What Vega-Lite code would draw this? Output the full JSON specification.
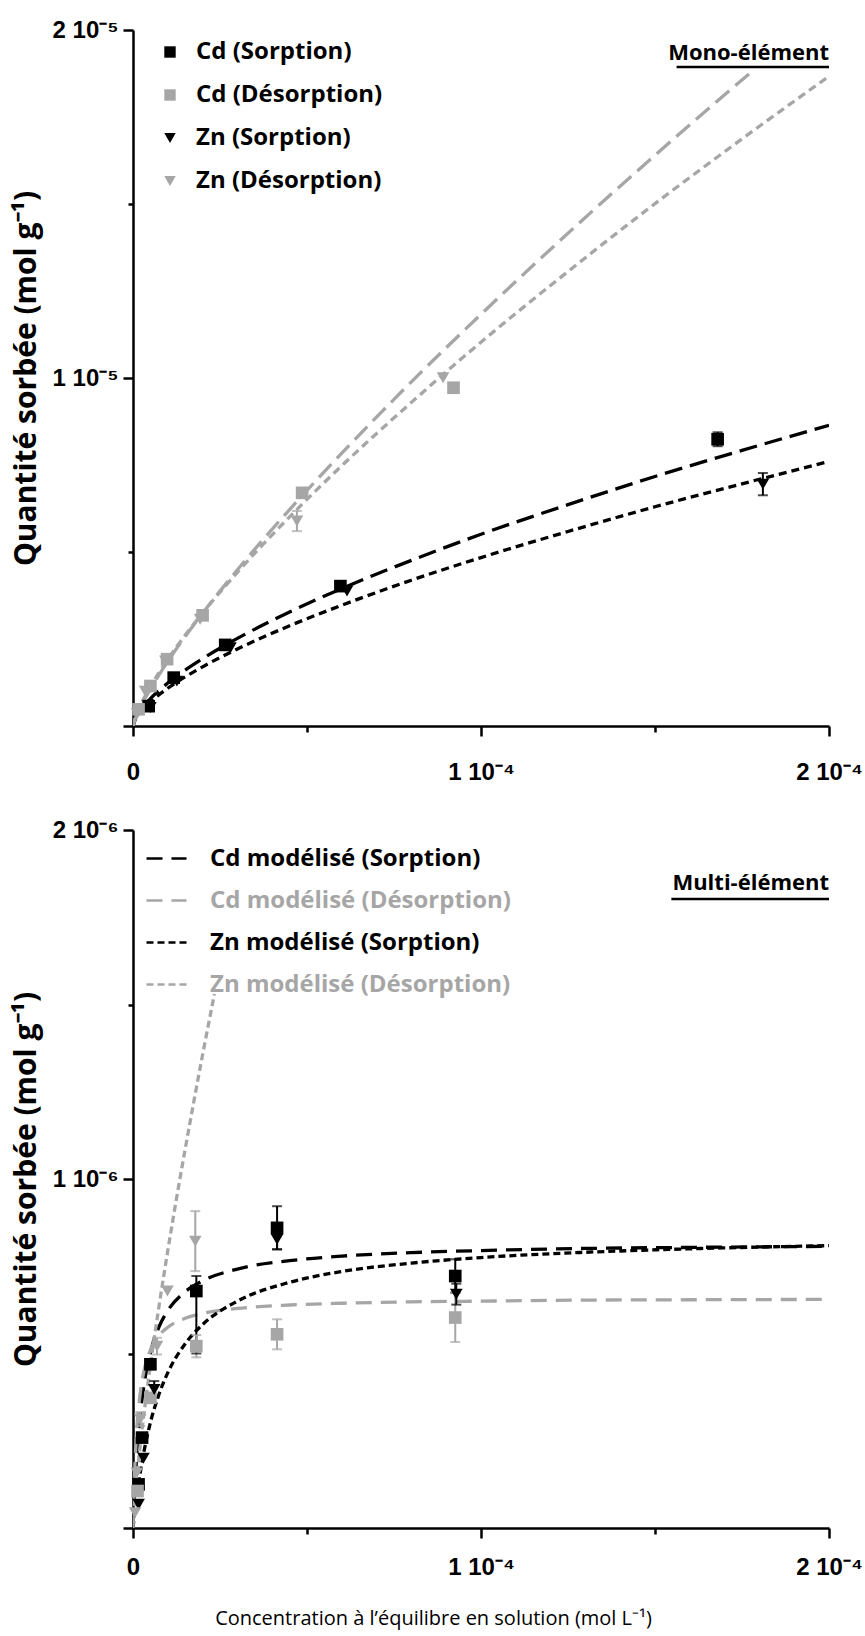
{
  "$schema": "https://vega.github.io/schema/vega-lite/v6.json",
  "background": "white",
  "padding": {"left": 11, "top": 18, "right": 5, "bottom": 5},
  "bounds": "flush",
  "spacing": 104,
  "config": {
    "view": {"stroke": null},
    "axis": {
      "grid": false,
      "domainColor": "black",
      "domainWidth": 2.5,
      "tickColor": "black",
      "tickWidth": 2.5,
      "labelFont": "Liberation Sans",
      "labelFontWeight": "bold",
      "labelFontSize": 24,
      "labelColor": "black",
      "labelFlush": false,
      "labelOverlap": false,
      "titleFont": "Open Sans",
      "titleFontWeight": "bold",
      "titleFontSize": 30,
      "titleColor": "black"
    },
    "legend": {
      "labelFont": "Open Sans",
      "labelFontWeight": "bold",
      "labelFontSize": 24,
      "labelColor": "black",
      "labelLimit": 500
    }
  },
  "resolve": {
    "scale": {"fill": "independent", "shape": "independent", "stroke": "independent", "strokeDash": "independent", "color": "independent"},
    "legend": {"fill": "independent", "shape": "independent", "stroke": "independent", "strokeDash": "independent", "color": "independent"}
  },
  "datasets": {
    "topCurves": [
      {"curve": "Cd (Sorption)", "x": 0, "y": 0},
      {"curve": "Cd (Sorption)", "x": 5e-7, "y": 1.76e-7},
      {"curve": "Cd (Sorption)", "x": 2e-6, "y": 4.33e-7},
      {"curve": "Cd (Sorption)", "x": 5e-6, "y": 7.86e-7},
      {"curve": "Cd (Sorption)", "x": 1e-5, "y": 1.233e-6},
      {"curve": "Cd (Sorption)", "x": 2e-5, "y": 1.934e-6},
      {"curve": "Cd (Sorption)", "x": 3e-5, "y": 2.517e-6},
      {"curve": "Cd (Sorption)", "x": 4.5e-5, "y": 3.277e-6},
      {"curve": "Cd (Sorption)", "x": 6e-5, "y": 3.95e-6},
      {"curve": "Cd (Sorption)", "x": 8e-5, "y": 4.76e-6},
      {"curve": "Cd (Sorption)", "x": 1e-4, "y": 5.51e-6},
      {"curve": "Cd (Sorption)", "x": 1.25e-4, "y": 6.36e-6},
      {"curve": "Cd (Sorption)", "x": 1.5e-4, "y": 7.17e-6},
      {"curve": "Cd (Sorption)", "x": 1.75e-4, "y": 7.92e-6},
      {"curve": "Cd (Sorption)", "x": 2e-4, "y": 8.64e-6},
      {"curve": "Zn (Sorption)", "x": 0, "y": 0},
      {"curve": "Zn (Sorption)", "x": 5e-7, "y": 1.55e-7},
      {"curve": "Zn (Sorption)", "x": 2e-6, "y": 3.81e-7},
      {"curve": "Zn (Sorption)", "x": 5e-6, "y": 6.91e-7},
      {"curve": "Zn (Sorption)", "x": 1e-5, "y": 1.084e-6},
      {"curve": "Zn (Sorption)", "x": 2e-5, "y": 1.7e-6},
      {"curve": "Zn (Sorption)", "x": 3e-5, "y": 2.213e-6},
      {"curve": "Zn (Sorption)", "x": 4.5e-5, "y": 2.88e-6},
      {"curve": "Zn (Sorption)", "x": 6e-5, "y": 3.47e-6},
      {"curve": "Zn (Sorption)", "x": 8e-5, "y": 4.19e-6},
      {"curve": "Zn (Sorption)", "x": 1e-4, "y": 4.84e-6},
      {"curve": "Zn (Sorption)", "x": 1.25e-4, "y": 5.59e-6},
      {"curve": "Zn (Sorption)", "x": 1.5e-4, "y": 6.3e-6},
      {"curve": "Zn (Sorption)", "x": 1.75e-4, "y": 6.96e-6},
      {"curve": "Zn (Sorption)", "x": 2e-4, "y": 7.6e-6},
      {"curve": "Cd (Désorption)", "x": 0, "y": 0},
      {"curve": "Cd (Désorption)", "x": 5e-7, "y": 1.66e-7},
      {"curve": "Cd (Désorption)", "x": 2e-6, "y": 5.08e-7},
      {"curve": "Cd (Désorption)", "x": 5e-6, "y": 1.061e-6},
      {"curve": "Cd (Désorption)", "x": 1e-5, "y": 1.854e-6},
      {"curve": "Cd (Désorption)", "x": 2e-5, "y": 3.239e-6},
      {"curve": "Cd (Désorption)", "x": 3e-5, "y": 4.49e-6},
      {"curve": "Cd (Désorption)", "x": 4.5e-5, "y": 6.22e-6},
      {"curve": "Cd (Désorption)", "x": 6e-5, "y": 7.84e-6},
      {"curve": "Cd (Désorption)", "x": 8e-5, "y": 9.89e-6},
      {"curve": "Cd (Désorption)", "x": 1e-4, "y": 1.183e-5},
      {"curve": "Cd (Désorption)", "x": 1.25e-4, "y": 1.416e-5},
      {"curve": "Cd (Désorption)", "x": 1.5e-4, "y": 1.64e-5},
      {"curve": "Cd (Désorption)", "x": 1.65e-4, "y": 1.771e-5},
      {"curve": "Cd (Désorption)", "x": 1.78e-4, "y": 1.882e-5},
      {"curve": "Zn (Désorption)", "x": 0, "y": 0},
      {"curve": "Zn (Désorption)", "x": 5e-7, "y": 1.97e-7},
      {"curve": "Zn (Désorption)", "x": 2e-6, "y": 5.64e-7},
      {"curve": "Zn (Désorption)", "x": 5e-6, "y": 1.131e-6},
      {"curve": "Zn (Désorption)", "x": 1e-5, "y": 1.916e-6},
      {"curve": "Zn (Désorption)", "x": 2e-5, "y": 3.247e-6},
      {"curve": "Zn (Désorption)", "x": 3e-5, "y": 4.416e-6},
      {"curve": "Zn (Désorption)", "x": 4.5e-5, "y": 6.01e-6},
      {"curve": "Zn (Désorption)", "x": 6e-5, "y": 7.48e-6},
      {"curve": "Zn (Désorption)", "x": 8e-5, "y": 9.3e-6},
      {"curve": "Zn (Désorption)", "x": 1e-4, "y": 1.103e-5},
      {"curve": "Zn (Désorption)", "x": 1.25e-4, "y": 1.306e-5},
      {"curve": "Zn (Désorption)", "x": 1.5e-4, "y": 1.501e-5},
      {"curve": "Zn (Désorption)", "x": 1.75e-4, "y": 1.687e-5},
      {"curve": "Zn (Désorption)", "x": 2e-4, "y": 1.867e-5}
    ],
    "topPts": [
      {"series": "Cd (Sorption)", "x": 4.5e-6, "y": 5.7e-7},
      {"series": "Cd (Sorption)", "x": 1.17e-5, "y": 1.39e-6},
      {"series": "Cd (Sorption)", "x": 2.65e-5, "y": 2.33e-6},
      {"series": "Cd (Sorption)", "x": 5.96e-5, "y": 4.02e-6},
      {"series": "Cd (Sorption)", "x": 1.68e-4, "y": 8.24e-6, "lo": 8.04e-6, "hi": 8.44e-6},
      {"series": "Cd (Désorption)", "x": 1.6e-6, "y": 4.8e-7},
      {"series": "Cd (Désorption)", "x": 5e-6, "y": 1.15e-6},
      {"series": "Cd (Désorption)", "x": 9.8e-6, "y": 1.92e-6},
      {"series": "Cd (Désorption)", "x": 2.0e-5, "y": 3.18e-6},
      {"series": "Cd (Désorption)", "x": 4.86e-5, "y": 6.7e-6},
      {"series": "Cd (Désorption)", "x": 9.21e-5, "y": 9.72e-6},
      {"series": "Zn (Sorption)", "x": 5e-6, "y": 5.3e-7},
      {"series": "Zn (Sorption)", "x": 1.26e-5, "y": 1.29e-6},
      {"series": "Zn (Sorption)", "x": 2.8e-5, "y": 2.25e-6},
      {"series": "Zn (Sorption)", "x": 6.15e-5, "y": 3.88e-6},
      {"series": "Zn (Sorption)", "x": 1.81e-4, "y": 6.95e-6, "lo": 6.63e-6, "hi": 7.27e-6},
      {"series": "Zn (Désorption)", "x": 1.2e-6, "y": 3.5e-7},
      {"series": "Zn (Désorption)", "x": 3.5e-6, "y": 1.0e-6},
      {"series": "Zn (Désorption)", "x": 9.3e-6, "y": 1.87e-6},
      {"series": "Zn (Désorption)", "x": 1.93e-5, "y": 3.07e-6},
      {"series": "Zn (Désorption)", "x": 4.71e-5, "y": 5.89e-6, "lo": 5.6e-6, "hi": 6.18e-6},
      {"series": "Zn (Désorption)", "x": 8.91e-5, "y": 1.001e-5}
    ],
    "botCurves": [
      {"curve": "Cd modélisé (Sorption)", "x": 0, "y": 0},
      {"curve": "Cd modélisé (Sorption)", "x": 2.5e-7, "y": 6.0e-8},
      {"curve": "Cd modélisé (Sorption)", "x": 5e-7, "y": 1.12e-7},
      {"curve": "Cd modélisé (Sorption)", "x": 1e-6, "y": 1.97e-7},
      {"curve": "Cd modélisé (Sorption)", "x": 2e-6, "y": 3.18e-7},
      {"curve": "Cd modélisé (Sorption)", "x": 3e-6, "y": 3.99e-7},
      {"curve": "Cd modélisé (Sorption)", "x": 5e-6, "y": 5.02e-7},
      {"curve": "Cd modélisé (Sorption)", "x": 7.5e-6, "y": 5.77e-7},
      {"curve": "Cd modélisé (Sorption)", "x": 1e-5, "y": 6.23e-7},
      {"curve": "Cd modélisé (Sorption)", "x": 1.5e-5, "y": 6.77e-7},
      {"curve": "Cd modélisé (Sorption)", "x": 2e-5, "y": 7.08e-7},
      {"curve": "Cd modélisé (Sorption)", "x": 3e-5, "y": 7.42e-7},
      {"curve": "Cd modélisé (Sorption)", "x": 4.5e-5, "y": 7.66e-7},
      {"curve": "Cd modélisé (Sorption)", "x": 6e-5, "y": 7.79e-7},
      {"curve": "Cd modélisé (Sorption)", "x": 8e-5, "y": 7.89e-7},
      {"curve": "Cd modélisé (Sorption)", "x": 1e-4, "y": 7.95e-7},
      {"curve": "Cd modélisé (Sorption)", "x": 1.3e-4, "y": 8.01e-7},
      {"curve": "Cd modélisé (Sorption)", "x": 1.6e-4, "y": 8.04e-7},
      {"curve": "Cd modélisé (Sorption)", "x": 2e-4, "y": 8.07e-7},
      {"curve": "Cd modélisé (Désorption)", "x": 0, "y": 0},
      {"curve": "Cd modélisé (Désorption)", "x": 2.5e-7, "y": 9.6e-8},
      {"curve": "Cd modélisé (Désorption)", "x": 5e-7, "y": 1.67e-7},
      {"curve": "Cd modélisé (Désorption)", "x": 1e-6, "y": 2.67e-7},
      {"curve": "Cd modélisé (Désorption)", "x": 2e-6, "y": 3.8e-7},
      {"curve": "Cd modélisé (Désorption)", "x": 3e-6, "y": 4.43e-7},
      {"curve": "Cd modélisé (Désorption)", "x": 5e-6, "y": 5.1e-7},
      {"curve": "Cd modélisé (Désorption)", "x": 7.5e-6, "y": 5.52e-7},
      {"curve": "Cd modélisé (Désorption)", "x": 1e-5, "y": 5.75e-7},
      {"curve": "Cd modélisé (Désorption)", "x": 1.5e-5, "y": 6.01e-7},
      {"curve": "Cd modélisé (Désorption)", "x": 2e-5, "y": 6.15e-7},
      {"curve": "Cd modélisé (Désorption)", "x": 3e-5, "y": 6.29e-7},
      {"curve": "Cd modélisé (Désorption)", "x": 4.5e-5, "y": 6.39e-7},
      {"curve": "Cd modélisé (Désorption)", "x": 6e-5, "y": 6.44e-7},
      {"curve": "Cd modélisé (Désorption)", "x": 8e-5, "y": 6.48e-7},
      {"curve": "Cd modélisé (Désorption)", "x": 1e-4, "y": 6.5e-7},
      {"curve": "Cd modélisé (Désorption)", "x": 1.3e-4, "y": 6.53e-7},
      {"curve": "Cd modélisé (Désorption)", "x": 1.6e-4, "y": 6.54e-7},
      {"curve": "Cd modélisé (Désorption)", "x": 2e-4, "y": 6.55e-7},
      {"curve": "Zn modélisé (Sorption)", "x": 0, "y": 0},
      {"curve": "Zn modélisé (Sorption)", "x": 2.5e-7, "y": 2.28e-8},
      {"curve": "Zn modélisé (Sorption)", "x": 5e-7, "y": 4.44e-8},
      {"curve": "Zn modélisé (Sorption)", "x": 1e-6, "y": 8.44e-8},
      {"curve": "Zn modélisé (Sorption)", "x": 2e-6, "y": 1.535e-7},
      {"curve": "Zn modélisé (Sorption)", "x": 3e-6, "y": 2.11e-7},
      {"curve": "Zn modélisé (Sorption)", "x": 5e-6, "y": 3.02e-7},
      {"curve": "Zn modélisé (Sorption)", "x": 7.5e-6, "y": 3.84e-7},
      {"curve": "Zn modélisé (Sorption)", "x": 1e-5, "y": 4.45e-7},
      {"curve": "Zn modélisé (Sorption)", "x": 1.5e-5, "y": 5.28e-7},
      {"curve": "Zn modélisé (Sorption)", "x": 2e-5, "y": 5.83e-7},
      {"curve": "Zn modélisé (Sorption)", "x": 3e-5, "y": 6.5e-7},
      {"curve": "Zn modélisé (Sorption)", "x": 4.5e-5, "y": 7.04e-7},
      {"curve": "Zn modélisé (Sorption)", "x": 6e-5, "y": 7.35e-7},
      {"curve": "Zn modélisé (Sorption)", "x": 8e-5, "y": 7.59e-7},
      {"curve": "Zn modélisé (Sorption)", "x": 1e-4, "y": 7.75e-7},
      {"curve": "Zn modélisé (Sorption)", "x": 1.3e-4, "y": 7.9e-7},
      {"curve": "Zn modélisé (Sorption)", "x": 1.6e-4, "y": 8.0e-7},
      {"curve": "Zn modélisé (Sorption)", "x": 2e-4, "y": 8.09e-7},
      {"curve": "Zn modélisé (Désorption)", "x": 0, "y": 0},
      {"curve": "Zn modélisé (Désorption)", "x": 2.5e-7, "y": 4.6e-8},
      {"curve": "Zn modélisé (Désorption)", "x": 5e-7, "y": 7.9e-8},
      {"curve": "Zn modélisé (Désorption)", "x": 1e-6, "y": 1.35e-7},
      {"curve": "Zn modélisé (Désorption)", "x": 2e-6, "y": 2.3e-7},
      {"curve": "Zn modélisé (Désorption)", "x": 3e-6, "y": 3.15e-7},
      {"curve": "Zn modélisé (Désorption)", "x": 5e-6, "y": 4.66e-7},
      {"curve": "Zn modélisé (Désorption)", "x": 7.5e-6, "y": 6.37e-7},
      {"curve": "Zn modélisé (Désorption)", "x": 1e-5, "y": 7.95e-7},
      {"curve": "Zn modélisé (Désorption)", "x": 1.25e-5, "y": 9.44e-7},
      {"curve": "Zn modélisé (Désorption)", "x": 1.5e-5, "y": 1.086e-6},
      {"curve": "Zn modélisé (Désorption)", "x": 1.75e-5, "y": 1.223e-6},
      {"curve": "Zn modélisé (Désorption)", "x": 2e-5, "y": 1.356e-6},
      {"curve": "Zn modélisé (Désorption)", "x": 2.34e-5, "y": 1.53e-6}
    ],
    "botPts": [
      {"series": "Cd (Sorption)", "x": 1.6e-6, "y": 1.25e-7},
      {"series": "Cd (Sorption)", "x": 2.6e-6, "y": 2.59e-7},
      {"series": "Cd (Sorption)", "x": 5.0e-6, "y": 4.69e-7},
      {"series": "Cd (Sorption)", "x": 1.82e-5, "y": 6.79e-7, "lo": 5.0e-7, "hi": 7.22e-7},
      {"series": "Cd (Sorption)", "x": 4.14e-5, "y": 8.6e-7, "lo": 7.98e-7, "hi": 9.22e-7},
      {"series": "Cd (Sorption)", "x": 9.26e-5, "y": 7.22e-7, "lo": 6.74e-7, "hi": 7.7e-7},
      {"series": "Cd (Désorption)", "x": 1.3e-6, "y": 1.06e-7},
      {"series": "Cd (Désorption)", "x": 5.0e-6, "y": 3.73e-7},
      {"series": "Cd (Désorption)", "x": 1.82e-5, "y": 5.21e-7, "lo": 4.89e-7, "hi": 5.53e-7},
      {"series": "Cd (Désorption)", "x": 4.14e-5, "y": 5.55e-7, "lo": 5.12e-7, "hi": 5.98e-7},
      {"series": "Cd (Désorption)", "x": 9.26e-5, "y": 6.03e-7, "lo": 5.33e-7, "hi": 6.73e-7},
      {"series": "Zn (Sorption)", "x": 1.6e-6, "y": 6.8e-8},
      {"series": "Zn (Sorption)", "x": 3.0e-6, "y": 2.0e-7},
      {"series": "Zn (Sorption)", "x": 6.1e-6, "y": 3.97e-7, "lo": 3.73e-7, "hi": 4.21e-7},
      {"series": "Zn (Sorption)", "x": 4.14e-5, "y": 8.27e-7, "lo": 7.99e-7, "hi": 8.55e-7},
      {"series": "Zn (Sorption)", "x": 9.29e-5, "y": 6.7e-7, "lo": 6.4e-7, "hi": 7.0e-7},
      {"series": "Zn (Désorption)", "x": 6e-7, "y": 4.4e-8},
      {"series": "Zn (Désorption)", "x": 1.1e-6, "y": 1.58e-7},
      {"series": "Zn (Désorption)", "x": 2.1e-6, "y": 3.12e-7, "lo": 2.92e-7, "hi": 3.32e-7},
      {"series": "Zn (Désorption)", "x": 6.9e-6, "y": 5.21e-7, "lo": 4.97e-7, "hi": 5.45e-7},
      {"series": "Zn (Désorption)", "x": 9.9e-6, "y": 6.79e-7},
      {"series": "Zn (Désorption)", "x": 1.79e-5, "y": 8.22e-7, "lo": 7.36e-7, "hi": 9.08e-7}
    ]
  },
  "vconcat": [
    {
      "width": 696,
      "height": 696,
      "encoding": {
        "x": {"type": "quantitative", "scale": {"domain": [0, 0.0002], "nice": false},
          "axis": {"title": null, "values": [0, 0.00005, 0.0001, 0.00015, 0.0002],
            "labelExpr": "datum.value == 0 ? '0' : (abs(datum.value - 0.0001) < 1e-9 ? '1 10⁻⁴' : (abs(datum.value - 0.0002) < 1e-9 ? '2 10⁻⁴' : ''))",
            "tickSize": {"condition": {"test": "abs(datum.value - 0.00005) < 1e-9 || abs(datum.value - 0.00015) < 1e-9", "value": 6}, "value": 10},
            "labelPadding": 24}},
        "y": {"type": "quantitative", "scale": {"domain": [0, 0.00002], "nice": false},
          "axis": {"title": "Quantité sorbée (mol g⁻¹)", "values": [0, 0.000005, 0.00001, 0.000015, 0.00002],
            "labelExpr": "abs(datum.value - 0.00002) < 1e-10 ? '2 10⁻⁵' : (abs(datum.value - 0.00001) < 1e-10 ? '1 10⁻⁵' : '')",
            "tickSize": {"condition": {"test": "abs(datum.value - 0.000005) < 1e-10 || abs(datum.value - 0.000015) < 1e-10", "value": 5}, "value": 10},
            "labelPadding": 5, "titleX": -92}}
      },
      "layer": [
        {
          "data": {"name": "topCurves"},
          "mark": {"type": "line", "strokeWidth": 3.3, "interpolate": "monotone", "clip": true},
          "encoding": {
            "x": {"field": "x", "type": "quantitative"},
            "y": {"field": "y", "type": "quantitative"},
            "stroke": {"field": "curve", "type": "nominal", "legend": null,
              "scale": {"domain": ["Cd (Désorption)", "Cd (Sorption)", "Zn (Désorption)", "Zn (Sorption)"], "range": ["#a6a6a6", "black", "#a6a6a6", "black"]}},
            "strokeDash": {"field": "curve", "type": "nominal", "legend": null,
              "scale": {"domain": ["Cd (Désorption)", "Cd (Sorption)", "Zn (Désorption)", "Zn (Sorption)"], "range": [[18, 8], [18, 8], [8, 5], [8, 5]]}}
          }
        },
        {
          "data": {"name": "topPts"},
          "transform": [{"filter": "isValid(datum.lo)"}],
          "mark": {"type": "rule", "strokeWidth": 2},
          "encoding": {
            "x": {"field": "x", "type": "quantitative"},
            "y": {"field": "lo", "type": "quantitative"},
            "y2": {"field": "hi"},
            "stroke": {"field": "series", "type": "nominal", "legend": null,
              "scale": {"domain": ["Cd (Désorption)", "Cd (Sorption)", "Zn (Désorption)", "Zn (Sorption)"], "range": ["#a6a6a6", "black", "#a6a6a6", "black"]}}
          }
        },
        {
          "data": {"name": "topPts"},
          "transform": [{"filter": "isValid(datum.lo)"}, {"fold": ["lo", "hi"], "as": ["k", "v"]}],
          "mark": {"type": "tick", "orient": "horizontal", "size": 10, "thickness": 2},
          "encoding": {
            "x": {"field": "x", "type": "quantitative"},
            "y": {"field": "v", "type": "quantitative"},
            "fill": {"field": "series", "type": "nominal", "legend": null,
              "scale": {"domain": ["Cd (Désorption)", "Cd (Sorption)", "Zn (Désorption)", "Zn (Sorption)"], "range": ["#a6a6a6", "black", "#a6a6a6", "black"]}}
          }
        },
        {
          "data": {"name": "topPts"},
          "mark": {"type": "point", "filled": true, "size": 160, "opacity": 1},
          "encoding": {
            "x": {"field": "x", "type": "quantitative"},
            "y": {"field": "y", "type": "quantitative"},
            "color": {"field": "series", "type": "nominal",
              "scale": {"domain": ["Cd (Sorption)", "Cd (Désorption)", "Zn (Sorption)", "Zn (Désorption)"], "range": ["black", "#a6a6a6", "black", "#a6a6a6"]},
              "legend": {"title": null, "orient": "none", "legendX": 25, "legendY": 10, "padding": 0, "rowPadding": 19, "labelOffset": 14, "symbolSize": 130,
                "encode": {"labels": {"update": {"fill": {"signal": "indexof(datum.label, 'Désorption') >= 0 ? '#a6a6a6' : 'black'"}}}}}},
            "shape": {"field": "series", "type": "nominal",
              "scale": {"domain": ["Cd (Sorption)", "Cd (Désorption)", "Zn (Sorption)", "Zn (Désorption)"], "range": ["square", "square", "triangle-down", "triangle-down"]},
              "legend": {"title": null, "orient": "none", "legendX": 25, "legendY": 10, "padding": 0, "rowPadding": 19, "labelOffset": 14, "symbolSize": 130,
                "encode": {"labels": {"update": {"fill": {"signal": "indexof(datum.label, 'Désorption') >= 0 ? '#a6a6a6' : 'black'"}}}}}}
          }
        },
        {
          "data": {"values": [{}]},
          "mark": {"type": "text", "text": "Mono-élément", "align": "right", "baseline": "alphabetic", "font": "Open Sans", "fontWeight": "bold", "fontSize": 22, "color": "black"},
          "encoding": {"x": {"datum": 0.0002}, "y": {"datum": 0.00001914}}
        },
        {
          "data": {"values": [{}]},
          "mark": {"type": "rule", "strokeWidth": 2.5, "color": "black"},
          "encoding": {"x": {"datum": 0.0001562}, "x2": {"datum": 0.0002}, "y": {"datum": 0.00001894}}
        }
      ]
    },
    {
      "width": 696,
      "height": 698,
      "encoding": {
        "x": {"type": "quantitative", "scale": {"domain": [0, 0.0002], "nice": false},
          "axis": {"title": "Concentration à l’équilibre en solution (mol L⁻¹)", "values": [0, 0.00005, 0.0001, 0.00015, 0.0002],
            "labelExpr": "datum.value == 0 ? '0' : (abs(datum.value - 0.0001) < 1e-9 ? '1 10⁻⁴' : (abs(datum.value - 0.0002) < 1e-9 ? '2 10⁻⁴' : ''))",
            "tickSize": {"condition": {"test": "abs(datum.value - 0.00005) < 1e-9 || abs(datum.value - 0.00015) < 1e-9", "value": 6}, "value": 10},
            "labelPadding": 17, "titleFontWeight": "normal", "titleFontSize": 20, "titleX": 300, "titleY": 80}},
        "y": {"type": "quantitative", "scale": {"domain": [0, 0.000002], "nice": false},
          "axis": {"title": "Quantité sorbée (mol g⁻¹)", "values": [0, 0.0000005, 0.000001, 0.0000015, 0.000002],
            "labelExpr": "abs(datum.value - 0.000002) < 1e-11 ? '2 10⁻⁶' : (abs(datum.value - 0.000001) < 1e-11 ? '1 10⁻⁶' : '')",
            "tickSize": {"condition": {"test": "abs(datum.value - 0.0000005) < 1e-11 || abs(datum.value - 0.0000015) < 1e-11", "value": 5}, "value": 10},
            "labelPadding": 5, "titleX": -92}}
      },
      "layer": [
        {
          "data": {"name": "botCurves"},
          "mark": {"type": "line", "strokeWidth": 3.3, "interpolate": "monotone", "clip": true},
          "encoding": {
            "x": {"field": "x", "type": "quantitative"},
            "y": {"field": "y", "type": "quantitative"},
            "stroke": {"field": "curve", "type": "nominal",
              "scale": {"domain": ["Cd modélisé (Sorption)", "Cd modélisé (Désorption)", "Zn modélisé (Sorption)", "Zn modélisé (Désorption)"], "range": ["black", "#a6a6a6", "black", "#a6a6a6"]},
              "legend": {"title": null, "orient": "none", "legendX": 12, "legendY": 7, "padding": 0, "rowPadding": 8, "labelOffset": 22, "symbolType": "stroke", "symbolSize": 1600, "symbolStrokeWidth": 2.5,
                "encode": {"labels": {"update": {"fill": {"signal": "indexof(datum.label, 'Désorption') >= 0 ? '#a6a6a6' : 'black'"}}}}}},
            "strokeDash": {"field": "curve", "type": "nominal",
              "scale": {"domain": ["Cd modélisé (Sorption)", "Cd modélisé (Désorption)", "Zn modélisé (Sorption)", "Zn modélisé (Désorption)"], "range": [[16, 9], [16, 9], [7, 4], [7, 4]]},
              "legend": {"title": null, "orient": "none", "legendX": 12, "legendY": 7, "padding": 0, "rowPadding": 8, "labelOffset": 22, "symbolType": "stroke", "symbolSize": 1600, "symbolStrokeWidth": 2.5,
                "encode": {"labels": {"update": {"fill": {"signal": "indexof(datum.label, 'Désorption') >= 0 ? '#a6a6a6' : 'black'"}}}}}}
          }
        },
        {
          "data": {"name": "botPts"},
          "transform": [{"filter": "isValid(datum.lo)"}],
          "mark": {"type": "rule", "strokeWidth": 2},
          "encoding": {
            "x": {"field": "x", "type": "quantitative"},
            "y": {"field": "lo", "type": "quantitative"},
            "y2": {"field": "hi"},
            "color": {"field": "series", "type": "nominal", "legend": null,
              "scale": {"domain": ["Cd (Sorption)", "Cd (Désorption)", "Zn (Sorption)", "Zn (Désorption)"], "range": ["black", "#a6a6a6", "black", "#a6a6a6"]}}
          }
        },
        {
          "data": {"name": "botPts"},
          "transform": [{"filter": "isValid(datum.lo)"}, {"fold": ["lo", "hi"], "as": ["k", "v"]}],
          "mark": {"type": "tick", "orient": "horizontal", "size": 10, "thickness": 2},
          "encoding": {
            "x": {"field": "x", "type": "quantitative"},
            "y": {"field": "v", "type": "quantitative"},
            "color": {"field": "series", "type": "nominal", "legend": null,
              "scale": {"domain": ["Cd (Sorption)", "Cd (Désorption)", "Zn (Sorption)", "Zn (Désorption)"], "range": ["black", "#a6a6a6", "black", "#a6a6a6"]}}
          }
        },
        {
          "data": {"name": "botPts"},
          "mark": {"type": "point", "filled": true, "size": 160, "opacity": 1},
          "encoding": {
            "x": {"field": "x", "type": "quantitative"},
            "y": {"field": "y", "type": "quantitative"},
            "color": {"field": "series", "type": "nominal", "legend": null,
              "scale": {"domain": ["Cd (Sorption)", "Cd (Désorption)", "Zn (Sorption)", "Zn (Désorption)"], "range": ["black", "#a6a6a6", "black", "#a6a6a6"]}},
            "shape": {"field": "series", "type": "nominal", "legend": null,
              "scale": {"domain": ["Cd (Sorption)", "Cd (Désorption)", "Zn (Sorption)", "Zn (Désorption)"], "range": ["square", "square", "triangle-down", "triangle-down"]}}
          }
        },
        {
          "data": {"values": [{}]},
          "mark": {"type": "text", "text": "Multi-élément", "align": "right", "baseline": "alphabetic", "font": "Open Sans", "fontWeight": "bold", "fontSize": 22, "color": "black"},
          "encoding": {"x": {"datum": 0.0002}, "y": {"datum": 0.000001828}}
        },
        {
          "data": {"values": [{}]},
          "mark": {"type": "rule", "strokeWidth": 2.5, "color": "black"},
          "encoding": {"x": {"datum": 0.0001547}, "x2": {"datum": 0.0002}, "y": {"datum": 0.000001802}}
        }
      ]
    }
  ]
}
